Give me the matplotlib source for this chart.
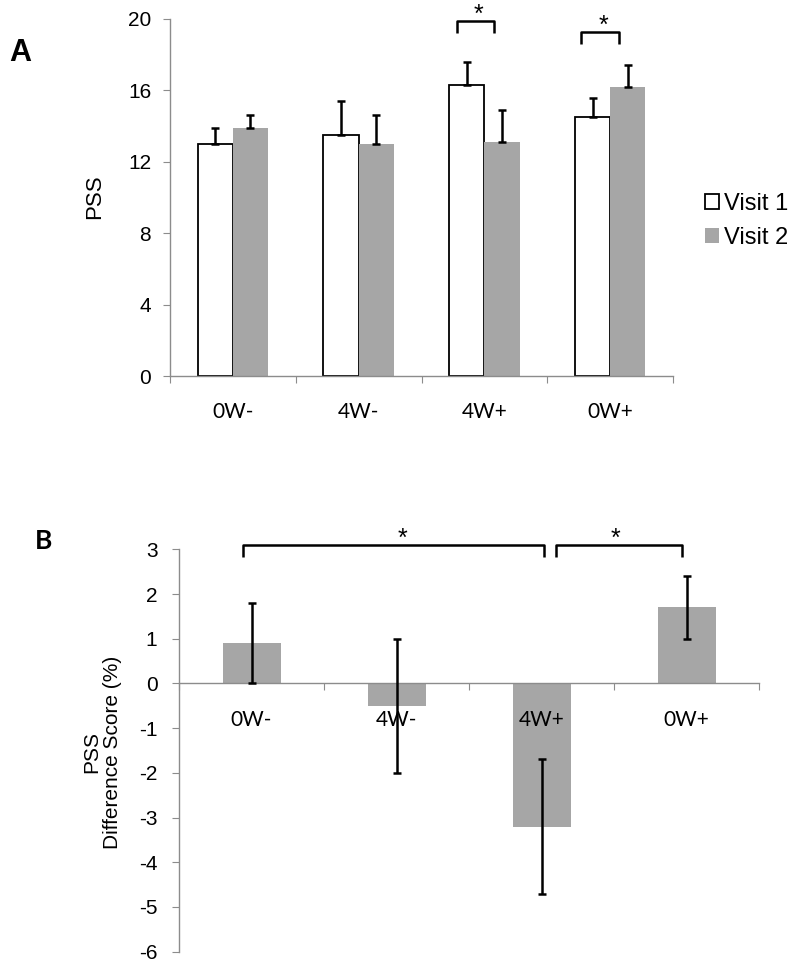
import matplotlib
matplotlib.use("Agg")
import matplotlib.pyplot as plt
from matplotlib.patches import Patch

# ---------------- data ----------------
categories = ["0W-", "4W-", "4W+", "0W+"]
visit1 = [13.0, 13.5, 16.3, 14.5]
visit1_err = [0.9, 1.9, 1.3, 1.1]
visit2 = [13.9, 13.0, 13.1, 16.2]
visit2_err = [0.7, 1.6, 1.8, 1.2]
yticks_a = [0, 4, 8, 12, 16, 20]

diff = [0.9, -0.5, -3.2, 1.7]
diff_err = [0.9, 1.5, 1.5, 0.7]
yticks_b = [3, 2, 1, 0, -1, -2, -3, -4, -5, -6]

GREY = "#A6A6A6"
AXC = "#8C8C8C"
W, H = 793, 969

fig = plt.figure(figsize=(W / 100, H / 100), dpi=100)

def px_axes(l, r, t, b):
    return fig.add_axes([l / W, 1 - b / H, (r - l) / W, (b - t) / H])

TICKFONT = "Liberation Sans"
CATFONT = "Lato"

# ---------------- panel A ----------------
ax = px_axes(170, 673, 19, 376)
ax.set_axisbelow(False)
x = list(range(len(categories)))
bw = 0.28
xa = [i - bw / 2 for i in x]
xb = [i + bw / 2 for i in x]
ax.bar(xa, visit1, width=bw, color="white", edgecolor="black", linewidth=1.3, zorder=2)
ax.bar(xb, visit2, width=bw, color=GREY, edgecolor="none", zorder=2)
ax.errorbar(xa, visit1, yerr=[[0] * 4, visit1_err], fmt="none", ecolor="black",
            elinewidth=1.8, capsize=2.6, capthick=1.8, zorder=3)
ax.errorbar(xb, visit2, yerr=[[0] * 4, visit2_err], fmt="none", ecolor="black",
            elinewidth=1.8, capsize=2.6, capthick=1.8, zorder=3)
ax.set_xlim(-0.5, 3.5)
ax.set_ylim(0, 20)
for s in ["top", "right"]:
    ax.spines[s].set_visible(False)
for s in ["left", "bottom"]:
    ax.spines[s].set_color(AXC)
    ax.spines[s].set_linewidth(1.0)
ax.set_yticks(yticks_a)
ax.set_yticklabels([str(v) for v in yticks_a], fontsize=15, family=TICKFONT)
ax.tick_params(axis="y", length=5, color=AXC, pad=8.5)
ax.set_xticks([-0.5, 0.5, 1.5, 2.5, 3.5])
ax.set_xticklabels([])
ax.tick_params(axis="x", which="major", length=5, color=AXC)
ax.set_xticks(x, minor=True)
ax.set_xticklabels(categories, minor=True, fontsize=15, family=CATFONT)
ax.tick_params(axis="x", which="minor", length=0, pad=18.5)

# significance brackets A
for (x0, x1, ylo, yhi, xs) in [(2 - 0.22, 2 + 0.08, 19.23, 19.9, 2 - 0.05),
                                (3 - 0.23, 3 + 0.07, 18.58, 19.25, 3 - 0.05)]:
    ax.plot([x0, x0, x1, x1], [ylo, yhi, yhi, ylo], color="black", lw=1.8,
            clip_on=False, solid_capstyle="butt", zorder=4)
    ax.text(xs, yhi - 0.05, "*", ha="center", va="baseline", fontsize=18,
            family=TICKFONT, clip_on=False)

fig.text(95 / W, 1 - 197 / H, "PSS", rotation=90, ha="center", va="center",
         fontsize=16, family=TICKFONT)
fig.text(20 / W, 1 - 53 / H, "A", ha="center", va="center", fontsize=22,
         fontweight="bold", family=TICKFONT)

leg = ax.legend(handles=[Patch(facecolor="white", edgecolor="black", linewidth=1.3, label="Visit 1"),
                         Patch(facecolor=GREY, edgecolor="none", label="Visit 2")],
                loc="center left", bbox_to_anchor=(705 / W, 1 - 221 / H),
                bbox_transform=fig.transFigure, frameon=False, fontsize=17,
                handlelength=0.6, handleheight=0.6, handletextpad=0.2,
                labelspacing=0.5, borderaxespad=0, borderpad=0)
for t in leg.get_texts():
    t.set_family(TICKFONT)

# ---------------- panel B ----------------
bx = px_axes(179, 759, 549.3, 951.7)
bx.set_axisbelow(False)
bx.bar(x, diff, width=0.4, color=GREY, edgecolor="none", zorder=2)
bx.errorbar(x, diff, yerr=diff_err, fmt="none", ecolor="black", elinewidth=1.8,
            capsize=3.2, capthick=1.8, zorder=3)
bx.set_xlim(-0.5, 3.5)
bx.set_ylim(-6, 3)
for s in ["top", "right"]:
    bx.spines[s].set_visible(False)
for s in ["left", "bottom"]:
    bx.spines[s].set_color(AXC)
    bx.spines[s].set_linewidth(1.0)
bx.spines["bottom"].set_position(("data", 0))
bx.set_yticks(yticks_b)
bx.set_yticklabels([str(v) if v >= 0 else "-" + str(-v) for v in yticks_b],
                   fontsize=15, family=TICKFONT)
bx.tick_params(axis="y", length=5, color=AXC, pad=10.5)
bx.set_xticks([-0.5, 0.5, 1.5, 2.5, 3.5])
bx.set_xticklabels([])
bx.tick_params(axis="x", which="major", length=5, color=AXC)
bx.set_xticks(x, minor=True)
bx.set_xticklabels(categories, minor=True, fontsize=15, family=CATFONT)
bx.tick_params(axis="x", which="minor", length=0, pad=19)

for (x0, x1, xs) in [(-0.06, 2.02, 1.04), (2.10, 2.97, 2.51)]:
    bx.plot([x0, x0, x1, x1], [2.82, 3.09, 3.09, 2.82], color="black", lw=1.8,
            clip_on=False, solid_capstyle="butt", zorder=4)
    bx.text(xs, 3.09 - 0.02, "*", ha="center", va="baseline", fontsize=18,
            family=TICKFONT, clip_on=False)

fig.text(102 / W, 1 - 752 / H, "PSS\nDifference Score (%)", rotation=90,
         ha="center", va="center", fontsize=15, family=TICKFONT,
         multialignment="center", linespacing=1.15)
fig.text(44 / W, 1 - 541 / H, "B", ha="center", va="center", fontsize=19,
         fontweight="bold", family=CATFONT)

fig.savefig("out.png", dpi=100)
